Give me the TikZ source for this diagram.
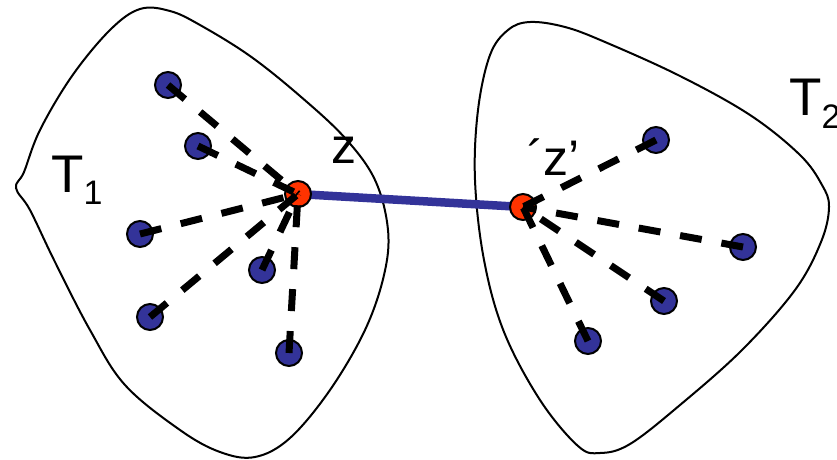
\documentclass[tikz,border=0pt]{standalone}
\usepackage{fontspec}
\setmainfont{Liberation Sans}
\begin{document}
\begin{tikzpicture}[x=1pt,y=-1pt,
  blob/.style={draw=black,line width=2pt},
  bluedot/.style={circle,draw=black,line width=2pt,fill=dotblue,minimum size=26pt,inner sep=0pt},
  reddot/.style={circle,draw=black,line width=2pt,fill=dotred,minimum size=26pt,inner sep=0pt},
  dash link/.style={line width=7pt,dash pattern=on 22pt off 20pt},
  bridge/.style={line width=8.5pt,draw=dotblue},
  lab/.style={anchor=base west,inner sep=0pt,font=\fontsize{50}{60}\selectfont}]
\definecolor{dotblue}{RGB}{51,51,153}
\definecolor{dotred}{RGB}{255,51,0}
\useasboundingbox (0,0) rectangle (837,459);
% left region
\draw[blob] plot[smooth cycle,tension=0.6] coordinates {
 (16,188) (24,172) (40,130) (72,76) (110,30) (140,9) (170,11) (200,25) (250,56) (300,96)
 (345,138) (375,180) (388,230) (384,275) (365,330) (330,390) (290,438) (255,457)
 (220,452) (180,430) (125,385) (90,330) (55,262) (30,210)};
% right region
\draw[blob] plot[smooth cycle,tension=0.6] coordinates {
 (530,22) (565,27) (605,42) (680,76) (750,115) (800,155) (822,185) (829,207) (821,242)
 (795,290) (742,350) (680,405) (630,444) (600,453) (578,446) (540,400) (504,332)
 (484,260) (475,180) (478,110) (490,55) (508,30)};
% nodes
\node[bluedot] (a1) at (168,85) {};
\node[bluedot] (a2) at (198,146) {};
\node[bluedot] (a3) at (140,234) {};
\node[bluedot] (a4) at (262,270) {};
\node[bluedot] (a5) at (150,317) {};
\node[bluedot] (a6) at (289,353) {};
\node[bluedot] (b1) at (656,140) {};
\node[bluedot] (b2) at (743,247) {};
\node[bluedot] (b3) at (664,301) {};
\node[bluedot] (b4) at (588,341) {};
\coordinate (zc) at (298,194);
\coordinate (zpc) at (523,207);
% bridge (behind red dots)
\draw[bridge] (zc) -- (zpc);
\node[reddot] (z) at (zc) {};
\node[reddot] (zp) at (zpc) {};
% dashed links
\foreach \t in {a1,a2,a3,a4,a5,a6} \draw[dash link] (\t.center) -- (z.center);
\foreach \t in {b1,b2,b3,b4} \draw[dash link] (\t.center) -- (zp.center);
% labels
\node[lab,font=\fontsize{53}{60}\selectfont] (t1) at (51,192) {T\raisebox{-12pt}{\fontsize{34}{40}\selectfont 1}};
\node[lab,font=\fontsize{53}{60}\selectfont] (t2) at (789,115) {T\raisebox{-13pt}{\fontsize{34}{40}\selectfont 2}};
\node[lab] (zl) at (331,163) {z};
\node[lab] (zpl) at (527,175) {´z’};
\end{tikzpicture}
\end{document}
